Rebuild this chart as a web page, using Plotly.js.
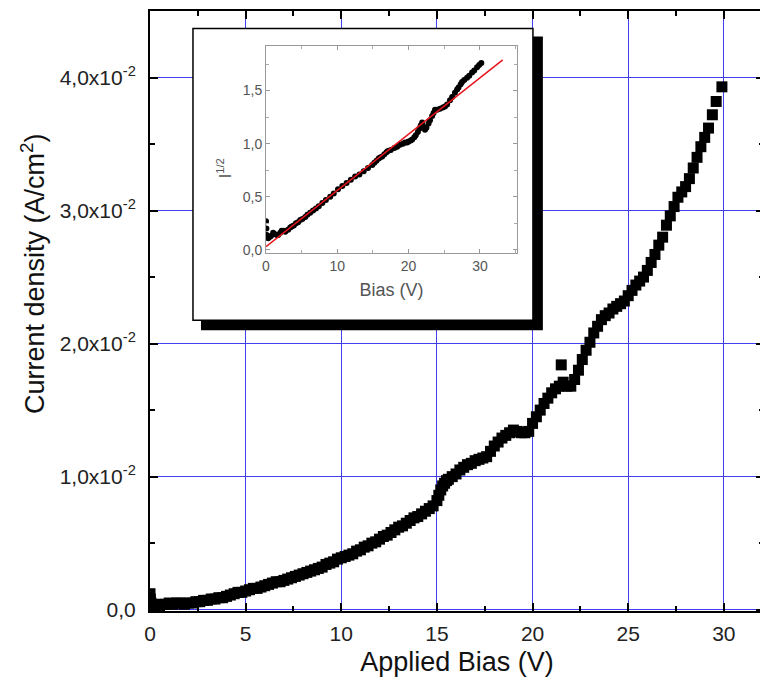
<!DOCTYPE html>
<html>
<head>
<meta charset="utf-8">
<script src="https://cdn.plot.ly/plotly-3.0.1.min.js"></script>
<style>
html,body{margin:0;padding:0;overflow:hidden;background:#fff;}
#chart{width:764px;height:691px;}
</style>
</head>
<body>
<div id="chart"></div>
<script>
// Main curve: applied bias (V) vs current density (A/cm^2)
var biasV = [0, 0.02, 0.05, 0.1, 0.2, 0.35, 0.5, 0.65, 0.8, 1.0, 1.2, 1.4, 1.6, 1.8, 2.0, 2.2, 2.4, 2.6, 2.8, 3.0,
  3.2, 3.4, 3.6, 3.8, 4.0, 4.2, 4.4, 4.6, 4.8, 5.0, 5.2, 5.4, 5.6, 5.8, 6.0, 6.2, 6.4, 6.6, 6.8, 7.0,
  7.2, 7.4, 7.6, 7.8, 8.0, 8.2, 8.4, 8.6, 8.8, 9.0, 9.2, 9.4, 9.6, 9.8, 10.0, 10.2, 10.4, 10.6, 10.8, 11.0,
  11.2, 11.4, 11.6, 11.8, 12.0, 12.2, 12.4, 12.6, 12.8, 13.0, 13.2, 13.4, 13.6, 13.8, 14.0, 14.2, 14.4, 14.6, 14.8, 15.0,
  15.1, 15.2, 15.3, 15.4, 15.5, 15.6, 15.8, 16.0, 16.2, 16.4, 16.6, 16.8, 17.0, 17.2, 17.4, 17.6, 17.8, 18.0,
  18.2, 18.4, 18.6, 18.8, 19.0, 19.2, 19.4, 19.6, 19.8, 20.0, 20.2, 20.4, 20.6, 20.8, 21.0, 21.2, 21.4, 21.5,
  21.6, 21.8, 22.0, 22.2, 22.4, 22.6, 22.8, 23.0, 23.2, 23.4, 23.6, 23.8, 24.0, 24.2, 24.4, 24.6, 24.8, 25.0,
  25.2, 25.4, 25.6, 25.8, 26.0, 26.2, 26.4, 26.6, 26.8, 27.0, 27.2, 27.4, 27.6, 27.8, 28.0, 28.2, 28.4, 28.6,
  28.8, 29.0, 29.2, 29.4, 29.6, 29.9];
var currentDensity = [0.0012, 0.0008, 0.0005, 0.0002, 0.0003, 0.0004, 0.0003, 0.0004, 0.0004, 0.0005, 0.0004, 0.0005, 0.0005, 0.0004, 0.0005, 0.0005, 0.0006, 0.0006, 0.0007, 0.0007,
  0.0008, 0.0008, 0.0009, 0.0009, 0.0010, 0.0011, 0.0012, 0.0013, 0.0013, 0.0014, 0.0015, 0.0016, 0.0016, 0.0017, 0.0018, 0.0019, 0.0020, 0.0021, 0.0021, 0.0022,
  0.0023, 0.0024, 0.0025, 0.0026, 0.0027, 0.0028, 0.0029, 0.0030, 0.0031, 0.0032, 0.0034, 0.0035, 0.0036, 0.0038, 0.0039, 0.0040, 0.0041, 0.0042, 0.0044, 0.0045,
  0.0047, 0.0048, 0.0050, 0.0051, 0.0053, 0.0055, 0.0056, 0.0058, 0.0060, 0.0062, 0.0063, 0.0065, 0.0067, 0.0069, 0.0070, 0.0072, 0.0074, 0.0076, 0.0078, 0.0082,
  0.0086, 0.0090, 0.0093, 0.0095, 0.0097, 0.0098, 0.0100, 0.0102, 0.0105, 0.0107, 0.0109, 0.0110, 0.0112, 0.0113, 0.0114, 0.0115, 0.0119, 0.0123,
  0.0126, 0.0129, 0.0131, 0.0133, 0.0135, 0.0134, 0.0133, 0.0133, 0.0134, 0.0140, 0.0145, 0.0150, 0.0155, 0.0159, 0.0163, 0.0166, 0.0168, 0.0184,
  0.0171, 0.0168, 0.0168, 0.0173, 0.0180, 0.0188, 0.0195, 0.0201, 0.0208, 0.0213, 0.0218, 0.0221, 0.0223, 0.0226, 0.0228, 0.0230, 0.0232, 0.0236,
  0.0240, 0.0244, 0.0247, 0.0250, 0.0255, 0.0261, 0.0267, 0.0274, 0.0280, 0.0289, 0.0296, 0.0303, 0.0310, 0.0314, 0.0318, 0.0324, 0.0332, 0.0340,
  0.0348, 0.0355, 0.0362, 0.0372, 0.0382, 0.0393];

// Y tick labels (main)
var yTickVals = [0, 0.01, 0.02, 0.03, 0.04];
var yTickText = ['0,0', '1,0x10<sup>-2</sup>', '2,0x10<sup>-2</sup>', '3,0x10<sup>-2</sup>', '4,0x10<sup>-2</sup>'];
var yMinorVals = [0.005, 0.015, 0.025, 0.035];

// Inset: I^1/2 vs bias
var insetBias = [0, 0.05, 0.1, 0.3, 0.5, 0.7, 1.0, 1.2, 1.5, 1.7, 2.0, 2.2, 2.5, 2.7, 3.1, 3.4, 3.6, 3.9, 4.2, 4.5, 4.8, 5.1, 5.5, 5.8, 6.2, 6.6,
  7.0, 7.4, 7.9, 8.4, 9.0, 9.5, 10.1, 10.7, 11.3, 11.9, 12.5, 13.1, 13.7, 14.3, 14.9, 15.2, 15.5, 15.8, 16.0, 16.3, 16.6, 16.9, 17.1, 17.5,
  18.0, 18.4, 18.8, 19.2, 19.5, 19.8, 20.0, 20.3, 20.5, 20.8, 21.0, 21.3, 21.5, 21.7, 21.9, 22.1, 22.3, 22.5, 22.8, 23.0, 23.3, 23.5, 23.7,
  24.0, 24.4, 24.8, 25.1, 25.4, 25.8, 26.1, 26.5, 26.8, 27.0, 27.3, 27.5, 27.8, 28.2, 28.5, 28.9, 29.2, 29.6, 29.9, 30.2];
var insetSqrtI = [0.27, 0.20, 0.14, 0.11, 0.12, 0.13, 0.16, 0.15, 0.14, 0.14, 0.16, 0.18, 0.18, 0.17, 0.19, 0.21, 0.22, 0.23, 0.25, 0.26, 0.28, 0.29, 0.31, 0.33, 0.35, 0.37,
  0.39, 0.41, 0.44, 0.47, 0.50, 0.53, 0.57, 0.60, 0.63, 0.66, 0.69, 0.71, 0.74, 0.77, 0.80, 0.82, 0.84, 0.86, 0.87, 0.88, 0.90, 0.92, 0.93, 0.94,
  0.96, 0.97, 0.99, 1.00, 1.01, 1.01, 1.02, 1.03, 1.04, 1.06, 1.08, 1.11, 1.14, 1.17, 1.20, 1.16, 1.13, 1.15, 1.19, 1.22, 1.26, 1.29, 1.32,
  1.32, 1.33, 1.34, 1.35, 1.37, 1.41, 1.44, 1.48, 1.51, 1.53, 1.56, 1.58, 1.60, 1.62, 1.64, 1.67, 1.69, 1.72, 1.74, 1.76];
var fitBias = [0, 33.2];
var fitSqrtI = [0.03, 1.79];
var insetYTickVals = [0, 0.5, 1.0, 1.5];
var insetYTickText = ['0,0', '0,5', '1,0', '1,5'];

var FONT = 'Liberation Sans, Arial, Helvetica, sans-serif';

var traces = [
  {x: biasV, y: currentDensity, type: 'scatter', mode: 'markers',
   marker: {symbol: 'square', size: 11, color: '#000'}, xaxis: 'x', yaxis: 'y', hoverinfo: 'skip'},
  {x: insetBias, y: insetSqrtI, type: 'scatter', mode: 'markers',
   marker: {symbol: 'circle', size: 6, color: '#000'}, xaxis: 'x2', yaxis: 'y2', hoverinfo: 'skip'},
  {x: fitBias, y: fitSqrtI, type: 'scatter', mode: 'lines',
   line: {color: '#e8141c', width: 1.5}, xaxis: 'x2', yaxis: 'y2', hoverinfo: 'skip'}
];

var layout = {
  width: 764, height: 691,
  margin: {l: 150, r: 0, t: 11, b: 80},
  paper_bgcolor: '#fff', plot_bgcolor: '#fff',
  showlegend: false,
  font: {family: FONT, color: '#222'},
  xaxis: {
    range: [0, 32.1], tick0: 0, dtick: 5, tickmode: 'linear',
    showgrid: true, gridcolor: '#4040f0', gridwidth: 1, zeroline: false,
    showline: true, linecolor: '#000', linewidth: 2, mirror: 'ticks',
    ticks: 'inside', ticklen: 8, tickwidth: 2, tickcolor: '#000',
    minor: {dtick: 2.5, ticks: 'inside', ticklen: 5, tickwidth: 2, tickcolor: '#000', showgrid: false},
    tickfont: {size: 21, family: FONT, color: '#222'},
    ticklabelstandoff: 3,
    title: {text: 'Applied Bias (V)', font: {size: 27, family: FONT, color: '#111'}, standoff: 8}
  },
  yaxis: {
    range: [-0.0001, 0.045], tickmode: 'array', tickvals: yTickVals, ticktext: yTickText,
    showgrid: true, gridcolor: '#4040f0', gridwidth: 1, zeroline: false,
    showline: true, linecolor: '#000', linewidth: 2, mirror: 'ticks',
    ticks: 'inside', ticklen: 8, tickwidth: 2, tickcolor: '#000',
    minor: {tickmode: 'array', tickvals: yMinorVals, ticks: 'inside', ticklen: 5, tickwidth: 2, tickcolor: '#000', showgrid: false},
    tickfont: {size: 21, family: FONT, color: '#222'},
    ticklabelstandoff: 8
  },
  xaxis2: {
    domain: [0.18893, 0.59772], anchor: 'y2', range: [0, 35.2],
    tick0: 0, dtick: 10, tickmode: 'linear',
    showgrid: false, zeroline: false,
    showline: true, linecolor: '#999', linewidth: 1, mirror: 'ticks',
    ticks: 'inside', ticklen: 4, tickwidth: 1, tickcolor: '#999',
    minor: {dtick: 5, ticks: 'inside', ticklen: 3, tickwidth: 1, tickcolor: '#aaa', showgrid: false},
    tickfont: {size: 14, family: FONT, color: '#555'},
    title: {text: 'Bias (V)', font: {size: 18, family: FONT, color: '#555'}, standoff: 10}
  },
  yaxis2: {
    domain: [0.59667, 0.94167], anchor: 'x2', range: [-0.03, 1.92],
    tickmode: 'array', tickvals: insetYTickVals, ticktext: insetYTickText,
    showgrid: false, zeroline: false,
    showline: true, linecolor: '#999', linewidth: 1, mirror: 'ticks',
    ticks: 'inside', ticklen: 4, tickwidth: 1, tickcolor: '#999',
    minor: {tickmode: 'array', tickvals: [0.25, 0.75, 1.25, 1.75], ticks: 'inside', ticklen: 3, tickwidth: 1, tickcolor: '#aaa', showgrid: false},
    tickfont: {size: 14, family: FONT, color: '#555'}
  },
  shapes: [
    {type: 'rect', xref: 'x', yref: 'y', layer: 'between', x0: 2.665, x1: 20.54, y0: 0.02101, y1: 0.04308,
     fillcolor: '#000', line: {width: 0}},
    {type: 'rect', xref: 'x', yref: 'y', layer: 'between', x0: 2.247, x1: 20.02, y0: 0.02176, y1: 0.04368,
     fillcolor: '#fff', line: {color: '#000', width: 1.5}}
  ],
  annotations: [
    {text: 'Current density (A/cm<sup>2</sup>)', xref: 'paper', yref: 'paper', x: -0.1906, y: 0.5633,
     xanchor: 'center', yanchor: 'middle', textangle: -90, showarrow: false,
     font: {size: 27, family: FONT, color: '#111'}},
    {text: 'I<sup>1/2</sup>', xref: 'paper', yref: 'paper', x: 0.1205, y: 0.738,
     xanchor: 'center', yanchor: 'middle', textangle: -90, showarrow: false,
     font: {size: 16, family: FONT, color: '#555'}}
  ]
};

Plotly.newPlot('chart', traces, layout, {staticPlot: true, displayModeBar: false});
</script>
</body>
</html>
